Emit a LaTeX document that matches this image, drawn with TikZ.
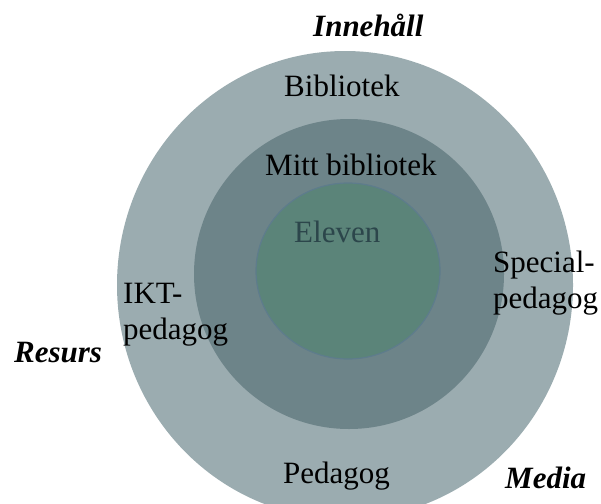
\documentclass[tikz,border=0pt]{standalone}
\usepackage{fontspec}
\setmainfont{Liberation Serif}
\definecolor{outerc}{HTML}{9BACB0}
\definecolor{midc}{HTML}{6D8489}
\definecolor{innerc}{HTML}{5B8479}
\definecolor{innerb}{HTML}{5E7C8C}
\definecolor{elevc}{HTML}{2C464B}
\tikzset{
  lbl/.style={inner sep=0pt, anchor=base west, font=\fontsize{31}{37}\selectfont},
  ital/.style={lbl, font=\fontsize{31}{37}\selectfont\bfseries\itshape},
}
\begin{document}
\begin{tikzpicture}[x=1pt,y=-1pt]
\useasboundingbox (0,0) rectangle (601,503);
\begin{scope}
\clip (0,0) rectangle (601,503);
\fill[outerc] (345,285) ellipse [x radius=228, y radius=234];
\fill[midc] (349,274) circle [radius=155];
\fill[innerc, draw=innerb, line width=1.2pt] (348,271) ellipse [x radius=92, y radius=88];
\end{scope}
\node[ital] (inneh) at (313,37) {Innehåll};
\node[lbl] (bib) at (284,96) {Bibliotek};
\node[lbl] (mitt) at (265,175) {Mitt bibliotek};
\node[lbl, text=elevc] (elev) at (294,242) {Eleven};
\node[lbl] (ikt1) at (123,303) {IKT-};
\node[lbl] (ikt2) at (123,339) {pedagog};
\node[lbl] (spec1) at (493,272) {Special-};
\node[lbl] (spec2) at (493,308) {pedagog};
\node[ital] (resurs) at (14,362) {Resurs};
\begin{scope}
\clip (0,0) rectangle (601,491);
\node[lbl] (ped) at (283,483) {Pedagog};
\end{scope}
\node[ital] (media) at (505,488) {Media};
\end{tikzpicture}
\end{document}
